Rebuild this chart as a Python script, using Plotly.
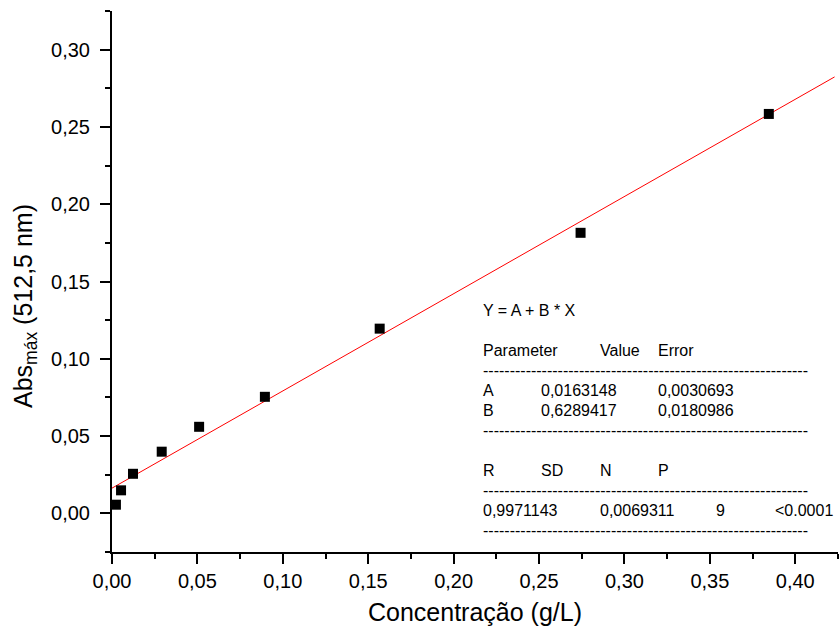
import plotly.graph_objects as go

# Data
conc = [0.0023, 0.0053, 0.0123, 0.0291, 0.0510, 0.0895, 0.1567, 0.2743, 0.3845]
absorb = [0.0056, 0.0149, 0.0256, 0.0399, 0.0560, 0.0754, 0.1195, 0.1815, 0.2584]
fit_A = 0.0163148
fit_B = 0.6289417
fit_x = [0.0, 0.423]
fit_y = [fit_A + fit_B * v for v in fit_x]

x_ticks = [0.00, 0.05, 0.10, 0.15, 0.20, 0.25, 0.30, 0.35, 0.40]
y_ticks = [0.00, 0.05, 0.10, 0.15, 0.20, 0.25, 0.30]

W, H = 839, 637
ML, MR, MT, MB = 112, 1, 11, 85
PW, PH = W - ML - MR, H - MT - MB

def px(x):
    return (x - ML) / PW

def py(y):
    return (H - MB - y) / PH

fig = go.Figure()
fig.add_trace(go.Scatter(x=fit_x, y=fit_y, mode="lines",
                         line=dict(color="#ff0000", width=1), showlegend=False))
fig.add_trace(go.Scatter(x=conc, y=absorb, mode="markers",
                         marker=dict(symbol="square", size=10, color="black",
                                     line=dict(width=0)), showlegend=False))

axis_common = dict(
    showgrid=False, zeroline=False, showline=True, linecolor="black", linewidth=2,
    ticks="outside", ticklen=10, tickwidth=2, tickcolor="black",
    tickfont=dict(family="Liberation Sans, Arial", size=20, color="black"),
    tickformat=".2f",
)
minor = dict(ticks="outside", ticklen=5, tickwidth=2, tickcolor="black",
             tick0=0, dtick=0.025)

fig.update_layout(
    width=W, height=H,
    margin=dict(l=ML, r=MR, t=MT, b=MB),
    paper_bgcolor="white", plot_bgcolor="white",
    separators=",.",
    font=dict(family="Liberation Sans, Arial", color="black"),
    xaxis=dict(range=[0, 0.425], tickvals=x_ticks,
               title=dict(text="Concentração (g/L)",
                          font=dict(family="Liberation Sans, Arial", size=25, color="black"),
                          standoff=12),
               minor=minor, **axis_common),
    yaxis=dict(range=[-0.025, 0.325], tickvals=y_ticks, ticklabelstandoff=6,
               minor=minor, **axis_common),
)

# y axis title as annotation
fig.add_annotation(text="Abs<sub>máx</sub> (512,5 nm)", textangle=-90,
                   xref="paper", yref="paper", x=px(25), y=py(306),
                   xanchor="center", yanchor="middle", showarrow=False,
                   font=dict(family="Liberation Sans, Arial", size=25, color="black"))

# Fit statistics box
dash = "-" * 61
rows = [
    (310.7, [(481, "Y = A + B * X")]),
    (350.7, [(481, "Parameter"), (598, "Value"), (656, "Error")]),
    (370.7, [(481, dash)]),
    (390.7, [(481, "A"), (539, "0,0163148"), (656, "0,0030693")]),
    (410.7, [(481, "B"), (539, "0,6289417"), (656, "0,0180986")]),
    (430.7, [(481, dash)]),
    (470.7, [(481, "R"), (539, "SD"), (598, "N"), (656, "P")]),
    (490.7, [(481, dash)]),
    (510.7, [(481, "0,9971143"), (598, "0,0069311"), (714, "9"), (773, "<0.0001")]),
    (530.7, [(481, dash)]),
]
for yy, items in rows:
    for xx, t in items:
        fig.add_annotation(text=t, xref="paper", yref="paper", x=px(xx), y=py(yy),
                           xanchor="left", yanchor="middle", showarrow=False,
                           font=dict(family="Liberation Sans, Arial", size=16, color="black"))

fig.write_html("out.html")
